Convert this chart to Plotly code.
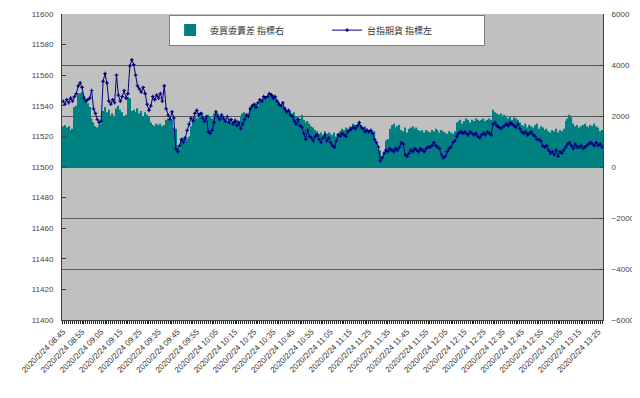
import plotly.graph_objects as go

# 台指期貨 (left axis) - one value per minute from 08:45
futures = [
    11543, 11541, 11544, 11542, 11545, 11543, 11546, 11548, 11553, 11555,
    11552, 11545, 11543, 11544, 11545, 11550, 11538, 11535, 11531, 11529,
    11530, 11556, 11561, 11555, 11543, 11541, 11544, 11542, 11560, 11547,
    11543, 11546, 11550, 11545, 11548, 11566, 11570, 11567, 11560, 11553,
    11551, 11549, 11552, 11548, 11541, 11537, 11540, 11546, 11544, 11547,
    11545, 11548, 11543, 11553, 11538, 11534, 11531, 11536, 11532, 11512,
    11510, 11514, 11518, 11516, 11519, 11524, 11528, 11532, 11530, 11535,
    11537, 11534, 11535, 11532, 11530, 11533, 11523, 11522, 11524, 11529,
    11536, 11533, 11531, 11534, 11532, 11530, 11533, 11529, 11531, 11528,
    11530, 11527, 11529, 11525, 11528, 11531, 11534, 11533, 11538, 11540,
    11541, 11539, 11542, 11544, 11543, 11546, 11545, 11546, 11548, 11547,
    11545, 11546, 11543, 11541, 11540, 11542, 11538, 11536, 11537, 11534,
    11533, 11530, 11528, 11531, 11527, 11526, 11522, 11518, 11524, 11520,
    11519, 11517, 11520, 11521, 11518, 11516, 11519, 11521, 11517, 11519,
    11516, 11514, 11513, 11517, 11521, 11520, 11522, 11521, 11520, 11523,
    11524, 11525, 11526, 11525, 11527, 11529, 11526, 11525, 11523, 11524,
    11523, 11524, 11522, 11518, 11516, 11513, 11504, 11506, 11509, 11511,
    11510, 11512, 11511, 11510, 11512, 11511, 11513, 11516, 11515, 11508,
    11507, 11509, 11511, 11510, 11512, 11511, 11510, 11512, 11511, 11510,
    11512, 11513, 11513, 11514, 11516, 11514, 11513, 11512, 11508, 11506,
    11507, 11510, 11512, 11513, 11516, 11517, 11520, 11522, 11523, 11522,
    11523, 11522, 11521, 11523, 11522, 11521, 11522, 11520, 11519, 11521,
    11522, 11521, 11523, 11522, 11521, 11528, 11529, 11527, 11526, 11525,
    11526, 11527, 11528, 11527, 11529, 11528, 11527, 11526, 11528, 11525,
    11523, 11522, 11523, 11521, 11522, 11523, 11521, 11520, 11518, 11518,
    11517, 11514, 11513, 11514, 11511, 11509, 11510, 11508, 11511, 11507,
    11510, 11509, 11511, 11513, 11515, 11516, 11514, 11512, 11515, 11513,
    11513, 11514, 11512, 11513, 11514, 11515, 11516, 11515, 11514, 11516,
    11514, 11515, 11513,
]

# 委買委賣差 (right axis)
spread = [
    1600, 1650, 1550, 1600, 1450, 1500, 2350, 2400, 2850, 2900,
    2950, 2800, 2600, 2500, 2350, 1900, 1750, 1600, 1550, 1650,
    1700, 2200, 2350, 2150, 2250, 2000, 2100, 1950, 2300, 2400,
    2250, 2150, 2000, 2050, 2750, 2700, 2200, 2250, 2150, 2300,
    2100, 2200, 2000, 2150, 2050, 1950, 1750, 1650, 1600, 1700,
    1650, 1700, 1600, 1650, 1850, 1900, 1800, 1850, 1550, 1500,
    850, 700, 1100, 1150, 1200, 1100, 1200, 1600, 1750, 1950,
    1900, 2100, 2000, 2150, 1950, 1850, 2050, 2000, 1900, 2100,
    2050, 2100, 2000, 2050, 1950, 1850, 1800, 1900, 1750, 1800,
    1900, 1850, 1800, 2000, 2100, 2150, 2050, 2100, 2350, 2400,
    2450, 2500, 2400, 2550, 2650, 2750, 2700, 2650, 2800, 2900,
    2850, 2800, 2650, 2550, 2450, 2400, 2350, 2250, 2150, 2200,
    2100, 2150, 2000, 1950, 1900, 2050, 1850, 1750, 1800, 1700,
    1600, 1550, 1450, 1400, 1300, 1350, 1250, 1400, 1300, 1350,
    1300, 1250, 1350, 1200, 1300, 1400, 1500, 1450, 1550, 1500,
    1600, 1550, 1700, 1650, 1600, 1700, 1650, 1550, 1600, 1500,
    1400, 1450, 1350, 1400, 950, 700, 650, 450, 600, 1050,
    1100, 1500, 1650, 1700, 1550, 1600, 1650, 1450, 1400, 1550,
    1350, 1500, 1550, 1600, 1500, 1550, 1450, 1400, 1450, 1350,
    1450, 1400, 1350, 1450, 1400, 1500, 1450, 1350, 1450, 1400,
    1350, 1300, 1400, 1350, 1300, 1400, 1750, 1800, 1850, 1700,
    1800, 1900, 1850, 1750, 1850, 1800, 1900, 1850, 1800, 1850,
    1900, 1800, 1850, 1900, 1850, 2250, 2150, 2100, 2050, 2100,
    2000, 2050, 1950, 1900, 2000, 1850, 1950, 1900, 1850, 1750,
    1650, 1600, 1700, 1550, 1650, 1600, 1550, 1650, 1700, 1500,
    1600, 1550, 1450, 1500, 1400, 1350, 1450, 1400, 1500, 1350,
    1450, 1400, 1500, 1800, 1900, 2050, 1950, 1700, 1600, 1650,
    1550, 1600, 1650, 1700, 1600, 1550, 1650, 1600, 1700, 1600,
    1550, 1400, 1450,
]

start_minutes = 8 * 60 + 45
times = ["2020/2/24 %02d:%02d" % ((start_minutes + i) // 60, (start_minutes + i) % 60)
         for i in range(len(futures))]
tick_text = [t if i % 10 == 0 else "" for i, t in enumerate(times)]

left_ticks = list(range(11400, 11601, 20))
right_ticks = list(range(-6000, 6001, 2000))

fig = go.Figure()
fig.add_trace(go.Bar(
    x=times, y=spread, name="委買委賣差 指標右", yaxis="y",
    marker=dict(color="#008080", line=dict(width=0)),
))
fig.add_trace(go.Scatter(
    x=times, y=futures, name="台指期貨 指標左", yaxis="y2",
    mode="lines+markers",
    line=dict(color="#000080", width=1),
    marker=dict(symbol="cross", size=3, color="#000080"),
))

axis_font = dict(family="Liberation Sans, Arial", size=8, color="#444444")

# page body has an 8px default margin, so the figure is sized to fit inside it
fig.update_layout(
    width=632, height=390,
    margin=dict(l=54, r=37, t=6, b=78, autoexpand=False),
    paper_bgcolor="white",
    plot_bgcolor="#c0c0c0",
    bargap=0.3,
    showlegend=True,
    legend=dict(
        orientation="h", x=0.49, xanchor="center", y=0.998, yanchor="top",
        bgcolor="white", bordercolor="#808080", borderwidth=1,
        font=dict(family="Noto Sans CJK TC", size=9, color="#333333"),
        entrywidth=112, traceorder="normal", itemwidth=30,
        tracegroupgap=0,
    ),
    xaxis=dict(
        type="category", tickmode="array", tickvals=times, ticktext=tick_text,
        tickangle=-45, tickfont=dict(family="Liberation Sans, Arial", size=8, color="#333333"),
        ticks="outside", ticklen=3, tickcolor="#202020", tickwidth=1,
        showgrid=False, showline=True, linecolor="#404040", linewidth=1,
        range=[-0.5, len(times) - 0.5], automargin=False,
    ),
    yaxis=dict(
        side="right", range=[-6000, 6000], tickvals=right_ticks, tickformat="d",
        tickfont=axis_font, showgrid=True, gridcolor="#5a5a5a", gridwidth=1,
        zeroline=False, showline=True, linecolor="#404040", linewidth=1,
        ticks="inside", ticklen=4, tickcolor="#404040",
        ticklabelstandoff=6, automargin=False,
    ),
    yaxis2=dict(
        side="left", overlaying="y", range=[11400, 11600], tickvals=left_ticks,
        tickformat="d",
        tickfont=axis_font, showgrid=False, zeroline=False,
        showline=True, linecolor="#404040", linewidth=1,
        ticks="inside", ticklen=4, tickcolor="#404040",
        ticklabelstandoff=6, automargin=False,
    ),
)

fig.write_html("out.html")
